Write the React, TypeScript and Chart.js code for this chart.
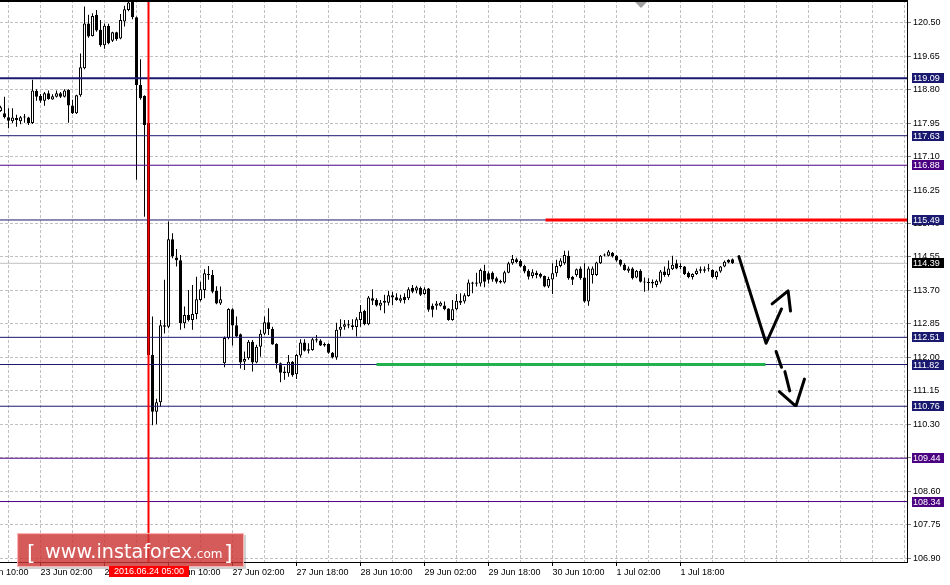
import React, { useEffect, useRef } from "react";
import { Chart, registerables } from "chart.js";

Chart.register(...registerables);

// Hourly bars; bar index 0 = 23 Jun 02:00
const FIRST_BAR = -10;

const OPEN = [
  118.26, 118.20, 118.10, 118.00, 118.08, 118.00, 118.11, 118.09, 117.95, 118.77,
  118.64, 118.52, 118.71, 118.55, 118.62, 118.71, 118.62, 118.79, 118.40, 118.20,
  118.66, 119.34, 120.48, 120.16, 120.70, 120.32, 119.93, 120.42, 120.04, 120.26,
  120.10, 120.53, 120.82, 121.03, 120.64, 118.92, 118.64, 117.95, 112.06, 110.62,
  110.86, 112.78, 112.78, 115.00, 114.54, 114.47, 112.87, 113.08, 112.95, 113.10,
  113.46, 113.71, 114.09, 114.09, 113.69, 113.37, 111.85, 112.49, 113.22, 112.82,
  112.59, 111.89, 111.98, 112.40, 111.87, 112.27, 112.60, 112.89, 112.72, 112.34,
  111.85, 111.64, 111.60, 111.89, 111.57, 112.05, 112.38, 112.21, 112.19, 112.46,
  112.43, 112.34, 112.34, 112.12, 112.00, 112.70, 112.78, 112.81, 112.82, 112.77,
  112.95, 113.18, 112.84, 113.50, 113.46, 113.31, 113.39, 113.39, 113.58, 113.53,
  113.44, 113.54, 113.50, 113.77, 113.70, 113.76, 113.61, 113.75, 113.31, 113.31,
  113.31, 113.32, 113.24, 112.95, 113.22, 113.44, 113.42, 113.56, 113.90, 113.87,
  113.88, 114.20, 114.14, 114.15, 114.01, 113.94, 113.90, 114.15, 114.39, 114.49,
  114.45, 114.32, 114.20, 114.07, 114.15, 114.12, 114.07, 113.80, 113.98, 114.14,
  114.32, 114.39, 114.58, 114.05, 114.09, 114.26, 114.03, 113.42, 114.09, 114.09,
  114.39, 114.59, 114.58, 114.66, 114.58, 114.48, 114.35, 114.20, 114.26, 114.03,
  114.20, 113.92, 113.89, 113.92, 113.84, 113.92, 114.18, 114.09, 114.24, 114.39,
  114.29, 114.31, 114.15, 114.04, 114.12, 114.24, 114.20, 114.24, 114.22, 114.04,
  114.18, 114.31, 114.48, 114.49,
];

const HIGH = [
  118.39, 118.62, 118.33, 118.33, 118.16, 118.13, 118.18, 118.11, 119.05, 118.81,
  118.69, 118.74, 118.78, 118.68, 118.78, 118.74, 118.81, 118.81, 118.54, 118.67,
  119.72, 120.91, 120.70, 120.74, 120.82, 120.57, 120.48, 120.47, 120.27, 120.27,
  120.72, 120.93, 121.10, 121.10, 120.66, 119.57, 118.66, 118.00, 113.04, 110.95,
  112.95, 113.97, 115.45, 115.15, 114.75, 114.60, 113.29, 113.71, 113.84, 114.05,
  113.92, 114.24, 114.32, 114.22, 113.81, 113.80, 112.53, 113.25, 113.25, 113.04,
  112.61, 112.15, 112.44, 112.44, 112.32, 112.70, 113.04, 113.25, 112.78, 112.36,
  111.87, 111.77, 112.06, 111.91, 112.09, 112.46, 112.46, 112.36, 112.49, 112.57,
  112.46, 112.38, 112.36, 112.14, 112.88, 112.97, 112.95, 112.95, 112.97, 113.02,
  113.33, 113.21, 113.56, 113.73, 113.50, 113.46, 113.59, 113.69, 113.67, 113.63,
  113.59, 113.63, 113.78, 113.84, 113.82, 113.80, 113.78, 113.76, 113.37, 113.43,
  113.42, 113.42, 113.25, 113.46, 113.61, 113.63, 113.63, 113.98, 113.92, 114.15,
  114.26, 114.35, 114.18, 114.18, 114.05, 113.97, 114.20, 114.43, 114.60, 114.53,
  114.49, 114.35, 114.24, 114.24, 114.20, 114.15, 114.08, 114.05, 114.39, 114.48,
  114.52, 114.71, 114.71, 114.07, 114.26, 114.31, 114.39, 114.31, 114.31, 114.43,
  114.60, 114.64, 114.73, 114.68, 114.60, 114.49, 114.39, 114.31, 114.29, 114.22,
  114.24, 114.03, 114.01, 113.98, 113.98, 114.22, 114.31, 114.46, 114.58, 114.48,
  114.39, 114.32, 114.18, 114.14, 114.26, 114.31, 114.31, 114.37, 114.24, 114.20,
  114.32, 114.46, 114.49, 114.51,
];

const LOW = [
  118.24, 118.07, 117.82, 117.95, 117.86, 117.92, 117.96, 117.90, 117.93, 118.52,
  118.47, 118.39, 118.54, 118.54, 118.60, 118.59, 118.60, 117.96, 118.18, 118.18,
  118.62, 119.32, 120.12, 120.15, 120.27, 119.89, 119.84, 119.95, 120.01, 120.04,
  120.08, 120.40, 120.79, 120.59, 116.51, 118.54, 115.57, 112.00, 110.28, 110.30,
  110.75, 112.61, 112.74, 114.52, 114.31, 112.70, 112.74, 112.91, 112.70, 112.97,
  113.42, 113.50, 113.97, 113.63, 113.35, 113.33, 111.75, 112.46, 112.30, 112.52,
  111.72, 111.68, 111.94, 111.64, 111.85, 112.02, 112.57, 112.57, 112.32, 111.72,
  111.37, 111.43, 111.51, 111.51, 111.45, 112.00, 112.15, 112.10, 112.17, 112.38,
  112.29, 112.27, 112.09, 111.97, 111.94, 112.53, 112.70, 112.74, 112.70, 112.53,
  112.78, 112.82, 112.82, 113.33, 113.29, 113.20, 113.12, 113.32, 113.33, 113.44,
  113.39, 113.37, 113.46, 113.63, 113.63, 113.56, 113.59, 113.16, 113.02, 113.21,
  113.29, 113.20, 112.93, 112.93, 113.20, 113.33, 113.37, 113.54, 113.63, 113.80,
  113.80, 113.78, 113.88, 113.92, 113.88, 113.88, 113.88, 114.14, 114.35, 114.39,
  114.29, 114.14, 113.98, 114.01, 114.01, 114.01, 113.78, 113.76, 113.61, 114.05,
  114.29, 114.35, 113.97, 113.84, 114.05, 113.97, 113.39, 113.31, 113.88, 114.07,
  114.37, 114.56, 114.56, 114.54, 114.43, 114.31, 114.20, 114.15, 113.98, 114.01,
  113.90, 113.67, 113.70, 113.76, 113.78, 113.88, 114.05, 114.05, 114.22, 114.24,
  114.24, 114.09, 114.01, 113.98, 114.09, 114.14, 114.15, 114.18, 114.01, 113.98,
  114.15, 114.29, 114.39, 114.37,
];

const CLOSE = [
  118.35, 118.10, 118.01, 118.09, 118.03, 118.10, 118.09, 117.95, 118.78, 118.62,
  118.52, 118.71, 118.56, 118.63, 118.71, 118.62, 118.78, 118.40, 118.20, 118.66,
  119.37, 120.48, 120.15, 120.67, 120.30, 119.93, 120.42, 119.98, 120.26, 120.08,
  120.57, 120.84, 121.01, 120.64, 118.92, 118.58, 117.90, 112.06, 110.62, 110.86,
  112.82, 112.82, 115.00, 114.56, 114.47, 112.87, 113.08, 112.95, 113.10, 113.48,
  113.73, 114.14, 114.11, 113.67, 113.37, 113.48, 112.49, 113.23, 112.81, 112.53,
  111.87, 111.96, 112.40, 111.87, 112.27, 112.60, 112.89, 112.72, 112.33, 111.85,
  111.61, 111.60, 111.89, 111.55, 112.06, 112.38, 112.17, 112.17, 112.46, 112.43,
  112.30, 112.30, 112.12, 112.00, 112.70, 112.78, 112.84, 112.84, 112.77, 112.97,
  113.16, 112.84, 113.52, 113.44, 113.32, 113.39, 113.44, 113.58, 113.52, 113.46,
  113.50, 113.46, 113.73, 113.67, 113.78, 113.59, 113.73, 113.21, 113.21, 113.37,
  113.39, 113.22, 112.95, 113.22, 113.44, 113.39, 113.58, 113.90, 113.87, 113.90,
  114.22, 113.92, 113.97, 113.98, 113.92, 113.90, 114.16, 114.39, 114.50, 114.42,
  114.31, 114.18, 114.05, 114.16, 114.09, 114.05, 113.80, 113.99, 114.14, 114.32,
  114.46, 114.60, 114.01, 113.97, 114.24, 114.01, 113.42, 114.26, 114.26, 114.41,
  114.58, 114.61, 114.69, 114.56, 114.46, 114.35, 114.22, 114.26, 114.01, 114.20,
  113.92, 113.90, 113.91, 113.88, 113.95, 114.18, 114.09, 114.26, 114.35, 114.26,
  114.32, 114.12, 114.04, 114.12, 114.20, 114.20, 114.24, 114.26, 114.04, 114.18,
  114.31, 114.43, 114.41, 114.39,
];

// Price axis ticks
const Y_TICKS = [
  106.90, 107.75, 108.60, 109.45, 110.30, 111.15, 112.00, 112.85, 113.70,
  114.55, 115.40, 116.25, 117.10, 117.95, 118.80, 119.65, 120.50,
];

// Time labels, one every 16 bars starting at bar -16
const X_LABEL_FIRST_BAR = -16;
const X_TICK_LABELS = [
  "22 Jun 10:00", "23 Jun 02:00", "23 Jun 18:00", "24 Jun 10:00", "27 Jun 02:00",
  "27 Jun 18:00", "28 Jun 10:00", "29 Jun 02:00", "29 Jun 18:00", "30 Jun 10:00",
  "1 Jul 02:00", "1 Jul 18:00",
];

// Horizontal levels
const LEVELS = [119.09, 117.63, 116.88, 115.49, 112.51, 111.82, 110.76, 109.44, 108.34];
const LEVEL_TONE = ["navy", "navy", "indigo", "navy", "navy", "navy", "navy", "indigo", "indigo"];
const BID = 114.39;

const RESISTANCE_VALUE = 115.49;
const RESISTANCE_FROM_BAR = 126.25;
const SUPPORT_VALUE = 111.82;
const SUPPORT_BARS = [84, 181.25];

const EVENT_BAR = 27;
const EVENT_LABEL = "2016.06.24 05:00";
const SHIFT_MARK_BAR = 150;

// Hand-drawn forecast arrows: [bar, price] points
const SOLID_STROKES = [
  [[174.6, 114.56], [181.4, 112.36], [185.25, 113.23]],
  [[182.9, 113.36], [186.9, 113.69], [187.5, 113.18]],
];
const DASHED_STROKES = [
  [[183.9, 112.15], [185.25, 111.75]],
  [[186.1, 111.64], [187.3, 111.15]],
  [[184.7, 111.13], [188.6, 110.78]],
  [[188.9, 110.78], [191.0, 111.45]],
];

const Y_MIN = 106.805;
const Y_MAX = 121.076;
const X_MIN = -10.125;
const X_MAX = X_MIN + 907 / 4;

const NAVY = "#191970";
const INDIGO = "#4b0082";
const AXIS_FONT = "'Liberation Sans', Arial, sans-serif";

export default function App() {
  const ref = useRef<HTMLCanvasElement>(null);

  useEffect(() => {
    const canvas = ref.current;
    if (!canvas) return;

    const bars = OPEN.map((_, i) => FIRST_BAR + i);
    const wickData = bars.map((x, i) => ({ x, y: [LOW[i], HIGH[i]] }));
    const bodyData = bars.map((x, i) => ({
      x,
      y: [Math.min(OPEN[i], CLOSE[i]), Math.max(OPEN[i], CLOSE[i])],
    }));
    const bodyFill = bars.map((_, i) => (CLOSE[i] >= OPEN[i] ? "#ffffff" : "#000000"));

    const hline = (v: number, x0 = X_MIN, x1 = X_MAX) => [
      { x: x0, y: v },
      { x: x1, y: v },
    ];
    const lineBase = { type: "line", pointRadius: 0, pointHoverRadius: 0, fill: false, tension: 0 };

    const datasets: any[] = [];
    datasets.push({ ...lineBase, data: hline(BID), borderColor: "#c0c0c0", borderWidth: 1, order: 100 });
    datasets.push({
      type: "bar",
      data: wickData,
      backgroundColor: "#000000",
      borderWidth: 0,
      barThickness: 1,
      grouped: false,
      inflateAmount: 0,
      order: 90,
    });
    datasets.push({
      type: "bar",
      data: bodyData,
      backgroundColor: bodyFill,
      borderColor: "#000000",
      borderWidth: 1,
      borderSkipped: false,
      barThickness: 3,
      grouped: false,
      minBarLength: 1,
      inflateAmount: 0,
      order: 80,
    });
    LEVELS.forEach((v, i) => {
      datasets.push({
        ...lineBase,
        data: hline(v),
        borderColor: LEVEL_TONE[i] === "navy" ? NAVY : INDIGO,
        borderWidth: i === 0 ? 2 : 1,
        order: 70,
      });
    });
    datasets.push({
      ...lineBase,
      data: hline(RESISTANCE_VALUE, RESISTANCE_FROM_BAR, X_MAX),
      borderColor: "#ff0000",
      borderWidth: 3,
      order: 60,
    });
    datasets.push({
      ...lineBase,
      data: hline(SUPPORT_VALUE, SUPPORT_BARS[0], SUPPORT_BARS[1]),
      borderColor: "#22b14c",
      borderWidth: 3,
      order: 60,
    });
    datasets.push({
      ...lineBase,
      data: [
        { x: EVENT_BAR, y: Y_MIN },
        { x: EVENT_BAR, y: Y_MAX },
      ],
      borderColor: "#ff0000",
      borderWidth: 2,
      order: 50,
    });
    [...SOLID_STROKES, ...DASHED_STROKES].forEach((stroke) => {
      datasets.push({
        ...lineBase,
        data: stroke.map(([x, y]) => ({ x, y })),
        borderColor: "#000000",
        borderWidth: 3,
        borderCapStyle: "round",
        borderJoinStyle: "round",
        order: 40,
      });
    });

    const overlay = {
      id: "overlay",
      afterDraw(chart: any) {
        const { ctx, chartArea: a, scales } = chart;
        const xs = scales.x;
        const ys = scales.y;
        ctx.save();

        // top frame line
        ctx.fillStyle = "#000000";
        ctx.fillRect(a.left, 0, a.right - a.left + 1, 2);

        // chart shift marker
        const sx = Math.round(xs.getPixelForValue(SHIFT_MARK_BAR));
        ctx.fillStyle = "#a0a0a0";
        ctx.beginPath();
        ctx.moveTo(sx - 6, 2);
        ctx.lineTo(sx + 6, 2);
        ctx.lineTo(sx, 8);
        ctx.closePath();
        ctx.fill();

        // price tags
        ctx.font = `9px ${AXIS_FONT}`;
        ctx.textBaseline = "middle";
        ctx.textAlign = "left";
        const tag = (v: number, bg: string) => {
          const py = Math.round(ys.getPixelForValue(v));
          ctx.fillStyle = bg;
          ctx.fillRect(a.right + 5, py - 5, 32, 10);
          ctx.fillStyle = "#ffffff";
          ctx.fillText(v.toFixed(2), a.right + 6, py + 0.5);
        };
        LEVELS.forEach((v, i) => tag(v, LEVEL_TONE[i] === "navy" ? NAVY : INDIGO));
        tag(BID, "#000000");

        // watermark
        const wx = 17, wy = 533, ww = 227, wh = 34;
        ctx.fillStyle = "rgba(0,0,0,0.18)";
        ctx.fillRect(wx + 2, wy + 2, ww, wh);
        ctx.fillStyle = "rgba(214,56,56,0.78)";
        ctx.fillRect(wx, wy, ww, wh);
        ctx.strokeStyle = "rgba(255,200,200,0.8)";
        ctx.lineWidth = 1;
        ctx.strokeRect(wx + 0.5, wy + 0.5, ww - 1, wh - 1);
        ctx.fillStyle = "#ffffff";
        ctx.textBaseline = "alphabetic";
        ctx.font = `22px 'DejaVu Sans', sans-serif`;
        ctx.fillText("[", 27, 560);
        ctx.fillText("]", 224, 560);
        ctx.font = `19px 'DejaVu Sans', sans-serif`;
        const main = "www.instaforex";
        const mw = ctx.measureText(main).width;
        ctx.save();
        ctx.translate(45, 558);
        ctx.scale(147 / mw, 1);
        ctx.fillText(main, 0, 0);
        ctx.restore();
        ctx.font = `12px 'DejaVu Sans', sans-serif`;
        ctx.fillText(".com", 193, 558);

        // event time tag
        const ex = Math.round(xs.getPixelForValue(EVENT_BAR));
        ctx.fillStyle = "#ff0000";
        ctx.fillRect(ex - 40, a.bottom + 4, 80, 11);
        ctx.fillStyle = "#ffffff";
        ctx.font = `9px ${AXIS_FONT}`;
        ctx.textAlign = "center";
        ctx.textBaseline = "middle";
        ctx.fillText(EVENT_LABEL, ex, a.bottom + 10);

        ctx.restore();
      },
    };

    const labelFor = (v: number) => {
      if ((v - X_LABEL_FIRST_BAR) % 16 !== 0) return "";
      return X_TICK_LABELS[(v - X_LABEL_FIRST_BAR) / 16] ?? "";
    };

    const chart = new Chart(canvas, {
      type: "bar",
      data: { datasets },
      options: {
        responsive: false,
        animation: false,
        devicePixelRatio: 1,
        events: [],
        layout: { padding: 0, autoPadding: false },
        plugins: { legend: { display: false }, tooltip: { enabled: false } },
        scales: {
          x: {
            type: "linear",
            min: X_MIN,
            max: X_MAX,
            offset: false,
            afterBuildTicks: (s: any) => {
              const t = [];
              for (let v = X_LABEL_FIRST_BAR; v <= X_MAX; v += 8) t.push({ value: v });
              s.ticks = t;
            },
            afterFit: (s: any) => {
              s.height = 23;
              s.paddingLeft = 0;
              s.paddingRight = 0;
            },
            ticks: {
              autoSkip: false,
              maxRotation: 0,
              minRotation: 0,
              align: "start",
              padding: 1,
              color: "#000000",
              font: { family: AXIS_FONT, size: 9 },
              callback: (v: any) => labelFor(Number(v)),
            },
            grid: {
              offset: false,
              color: "#c0c0c0",
              lineWidth: 1,
              tickLength: 4,
              tickColor: (c: any) =>
                c.tick && labelFor(c.tick.value) !== "" ? "#000000" : "rgba(0,0,0,0)",
            },
            border: { display: true, color: "#000000", width: 1, dash: [3, 2] },
          },
          y: {
            type: "linear",
            position: "right",
            min: Y_MIN,
            max: Y_MAX,
            afterBuildTicks: (s: any) => {
              s.ticks = Y_TICKS.map((v) => ({ value: v }));
            },
            afterFit: (s: any) => {
              s.width = 43;
              s.paddingTop = 0;
              s.paddingBottom = 0;
            },
            ticks: {
              autoSkip: false,
              padding: 2,
              color: "#000000",
              font: { family: AXIS_FONT, size: 9 },
              callback: (v: any) => Number(v).toFixed(2),
            },
            grid: {
              offset: false,
              color: "#c0c0c0",
              lineWidth: 1,
              tickLength: 4,
              tickColor: "#808080",
            },
            border: { display: true, color: "#000000", width: 1, dash: [3, 2] },
          },
        },
      } as any,
      plugins: [overlay],
    } as any);

    return () => chart.destroy();
  }, []);

  return (
    <div style={{ position: "absolute", left: 0, top: 0, width: 950, height: 585, background: "#fff" }}>
      <canvas ref={ref} width={950} height={585} style={{ display: "block" }} />
    </div>
  );
}
